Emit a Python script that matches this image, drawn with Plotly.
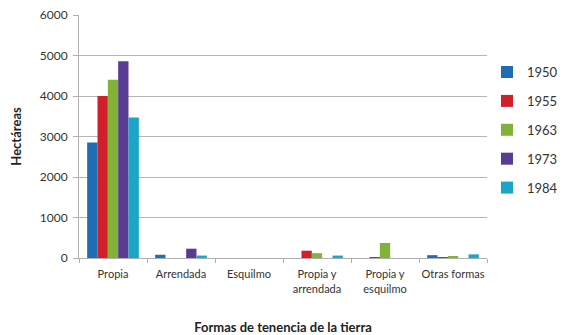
import plotly.graph_objects as go

categories = ["Propia", "Arrendada", "Esquilmo", "Propia y<br>arrendada", "Propia y<br>esquilmo", "Otras formas"]
years = ["1950", "1955", "1963", "1973", "1984"]
v1950 = [2850, 80, 0, 0, 0, 70]
v1955 = [4000, 0, 0, 180, 20, 20]
v1963 = [4400, 0, 0, 120, 370, 45]
v1973 = [4860, 230, 0, 0, 0, 0]
v1984 = [3470, 60, 0, 60, 0, 90]
series = [v1950, v1955, v1963, v1973, v1984]
colors = ["#1f6db5", "#d11f2c", "#82b338", "#5a3b94", "#1ba5c9"]
y_ticks = [0, 1000, 2000, 3000, 4000, 5000, 6000]

fig = go.Figure()
for i, (yr, vals) in enumerate(zip(years, series)):
    fig.add_trace(go.Bar(
        x=categories, y=vals, name=yr, legendgroup=yr,
        marker=dict(color=colors[i], line=dict(width=0)),
    ))

fig.update_layout(
    width=559, height=327,
    margin=dict(l=71, r=80, t=7, b=77, autoexpand=False),
    paper_bgcolor="white", plot_bgcolor="white",
    barmode="group", bargap=0.24, bargroupgap=0,
    font=dict(family="Lato, Open Sans, sans-serif", color="#333333"),
    showlegend=True,
    legend=dict(x=1.0, y=0.827, xanchor="left", yanchor="top",
                bgcolor="rgba(0,0,0,0)",
                font=dict(size=13, color="#333333"),
                tracegroupgap=9, itemwidth=30),
    xaxis=dict(
        showline=True, linecolor="#b0b0b0", linewidth=1,
        ticks="outside", ticklen=4, tickcolor="#b0b0b0",
        tickson="boundaries", tickangle=0, automargin=False,
        ticklabelstandoff=6,
        tickfont=dict(size=11, color="#333333"),
        title=dict(text="<b>Formas de tenencia de la tierra</b>",
                   font=dict(size=13, color="#222222"), standoff=36),
    ),
    yaxis=dict(
        range=[0, 6000], tickvals=y_ticks, automargin=False,
        showline=True, linecolor="#b0b0b0", linewidth=1,
        ticks="outside", ticklen=5, tickcolor="#b0b0b0",
        ticklabelstandoff=3, ticklabeloverflow="allow",
        showgrid=True, gridcolor="#b5b5b5", gridwidth=1,
        zeroline=False,
        tickfont=dict(size=12, color="#333333"),
        title=dict(text="<b>Hectáreas</b>", font=dict(size=13, color="#222222"), standoff=24),
    ),
)

fig.write_html("out.html")
